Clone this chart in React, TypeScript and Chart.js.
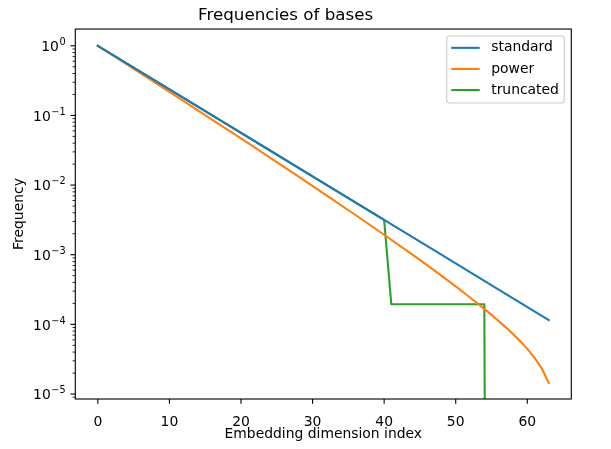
import { useEffect, useRef } from 'react'
import Chart from 'chart.js/auto'

// Frequency per embedding dimension index (log axis)
const standardX = [0, 8, 16, 24, 32, 40, 48, 56, 63]
const standardY = [1, 0.3162, 0.1, 0.03162, 0.01, 0.003162, 0.001, 0.0003162, 0.0001155]

const powerX = [0, 4, 8, 12, 16, 20, 24, 28, 32, 36, 40, 44, 46, 48, 50, 52, 54, 56, 57, 58, 59, 60, 61, 62, 63]
const powerY = [
  1, 0.5445, 0.2958, 0.1603, 0.0866, 0.0467, 0.025, 0.01334, 0.00707, 0.00372, 0.001936,
  0.000994, 0.000707, 0.0005, 0.000351, 0.0002434, 0.0001667, 0.0001118, 0.0000906, 0.0000726,
  0.0000574, 0.0000445, 0.0000333, 0.0000236, 0.0000144,
]

const truncatedX = [0, 40, 41, 54, 55, 63]
const truncatedY = [1, 0.003162, 0.000195, 0.000195, 0, 0]

const seriesLabels = ['standard', 'power', 'truncated']
const colors = ['#1f77b4', '#ff7f0e', '#2ca02c']

const xTicks = [0, 10, 20, 30, 40, 50, 60]
const yTicks = [1e-5, 1e-4, 1e-3, 1e-2, 1e-1, 1]
const yTickExponents = ['−5', '−4', '−3', '−2', '−1', '0']
const minorSteps = [2, 3, 4, 5, 6, 7, 8, 9]

const FONT = '"DejaVu Sans", sans-serif'
const FS = 13.9

const toPoints = (xs: number[], ys: number[]) =>
  // zero can't sit on a log axis: push it far below so the line leaves the plot like matplotlib's clip
  xs.map((x, i) => ({ x, y: ys[i] === 0 ? 1e-30 : ys[i] }))

const mplAxes = {
  id: 'mplAxes',
  afterDraw(chart: any) {
    const { ctx, chartArea: a, scales } = chart
    const seg = (x1: number, y1: number, x2: number, y2: number) => {
      ctx.beginPath(); ctx.moveTo(x1, y1); ctx.lineTo(x2, y2); ctx.stroke()
    }
    ctx.save()
    ctx.strokeStyle = '#000'

    // major ticks
    ctx.lineWidth = 1.11
    xTicks.forEach(v => {
      const px = scales.x.getPixelForValue(v)
      seg(px, a.bottom, px, a.bottom + 4.86)
    })
    yTicks.forEach(v => {
      const py = scales.y.getPixelForValue(v)
      seg(a.left, py, a.left - 4.86, py)
    })

    // y tick labels as 10 with a raised exponent
    ctx.fillStyle = '#000'
    ctx.textBaseline = 'alphabetic'
    ctx.textAlign = 'left'
    yTicks.forEach((v, i) => {
      const py = scales.y.getPixelForValue(v)
      ctx.font = `${FS * 0.7}px ${FONT}`
      const expW = ctx.measureText(yTickExponents[i]).width
      ctx.font = `${FS}px ${FONT}`
      const baseW = ctx.measureText('10').width
      const right = a.left - 9.72
      const x0 = right - expW - baseW - 0.5
      const baseY = py + 5.2
      ctx.fillText('10', x0, baseY)
      ctx.font = `${FS * 0.7}px ${FONT}`
      ctx.fillText(yTickExponents[i], x0 + baseW + 0.5, baseY - 5.8)
    })

    // minor ticks on log axis
    ctx.lineWidth = 0.83
    for (let e = -6; e <= 0; e++) {
      minorSteps.forEach(m => {
        const v = m * Math.pow(10, e)
        if (v < scales.y.min || v > scales.y.max) return
        const py = scales.y.getPixelForValue(v)
        seg(a.left, py, a.left - 2.78, py)
      })
    }

    // spines
    ctx.lineWidth = 1.11
    ctx.strokeRect(a.left, a.top, a.right - a.left, a.bottom - a.top)

    // legend box, upper right
    const boxW = 117.6, boxH = 67
    const bx = a.right - 7 - boxW, by = a.top + 7
    ctx.beginPath()
    ctx.roundRect(bx, by, boxW, boxH, 3)
    ctx.fillStyle = 'rgba(255,255,255,0.8)'
    ctx.fill()
    ctx.strokeStyle = '#cccccc'
    ctx.lineWidth = 1.11
    ctx.stroke()

    ctx.font = `${FS}px ${FONT}`
    ctx.textBaseline = 'middle'
    ctx.textAlign = 'left'
    chart.data.datasets.forEach((ds: any, i: number) => {
      const cy = by + 11.8 + i * 21.1
      ctx.strokeStyle = ds.borderColor
      ctx.lineWidth = 2.08
      seg(bx + 4.5, cy, bx + 33, cy)
      ctx.fillStyle = '#000'
      ctx.fillText(ds.label, bx + 44.5, cy)
    })
    ctx.restore()
  },
}

export default function App() {
  const canvasRef = useRef<HTMLCanvasElement>(null)

  useEffect(() => {
    document.body.style.margin = '0'
    if (!canvasRef.current) return
    const existing = Chart.getChart(canvasRef.current)
    if (existing) existing.destroy()

    const line = (i: number, pts: { x: number; y: number }[]) => ({
      label: seriesLabels[i],
      data: pts,
      borderColor: colors[i],
      backgroundColor: colors[i],
      borderWidth: 2.08,
      borderJoinStyle: 'round' as const,
      borderCapStyle: 'square' as const,
      pointRadius: 0,
      tension: 0,
    })

    const chart = new Chart(canvasRef.current, {
      type: 'line',
      data: {
        datasets: [
          line(0, toPoints(standardX, standardY)),
          line(1, toPoints(powerX, powerY)),
          line(2, toPoints(truncatedX, truncatedY)),
        ],
      },
      options: {
        responsive: true,
        maintainAspectRatio: false,
        animation: false,
        layout: { padding: { left: 0, top: 0, right: 39.7, bottom: 0 } },
        plugins: {
          legend: { display: false },
          tooltip: { enabled: false },
          title: {
            display: true,
            text: 'Frequencies of bases',
            color: '#000',
            font: { family: FONT, size: 16.7, weight: 'normal' },
            padding: { top: 5.9, bottom: 3.1 },
          },
        },
        scales: {
          x: {
            type: 'linear',
            min: -3.15,
            max: 66.15,
            afterBuildTicks: (s: any) => { s.ticks = xTicks.map(v => ({ value: v })) },
            afterFit: (s: any) => { s.height = 50 },
            grid: { display: false },
            border: { display: false },
            ticks: { autoSkip: false, maxRotation: 0, padding: 7, color: '#000', font: { family: FONT, size: FS } },
            title: {
              display: true,
              text: 'Embedding dimension index',
              color: '#000',
              font: { family: FONT, size: FS },
              padding: { top: 0, bottom: 6.5 },
            },
          },
          y: {
            type: 'logarithmic',
            min: 8.48e-6,
            max: 1.74,
            afterBuildTicks: (s: any) => { s.ticks = yTicks.map(v => ({ value: v })) },
            afterFit: (s: any) => { s.width = 75.3 },
            grid: { display: false },
            border: { display: false },
            ticks: { display: false, autoSkip: false },
            title: {
              display: true,
              text: 'Frequency',
              color: '#000',
              font: { family: FONT, size: FS },
              padding: { top: 11.5, bottom: 0 },
            },
          },
        },
      },
      plugins: [mplAxes],
    })

    return () => { chart.destroy() }
  }, [])

  return (
    <div style={{ position: 'relative', width: '611px', height: '449px' }}>
      <canvas ref={canvasRef} />
    </div>
  )
}
